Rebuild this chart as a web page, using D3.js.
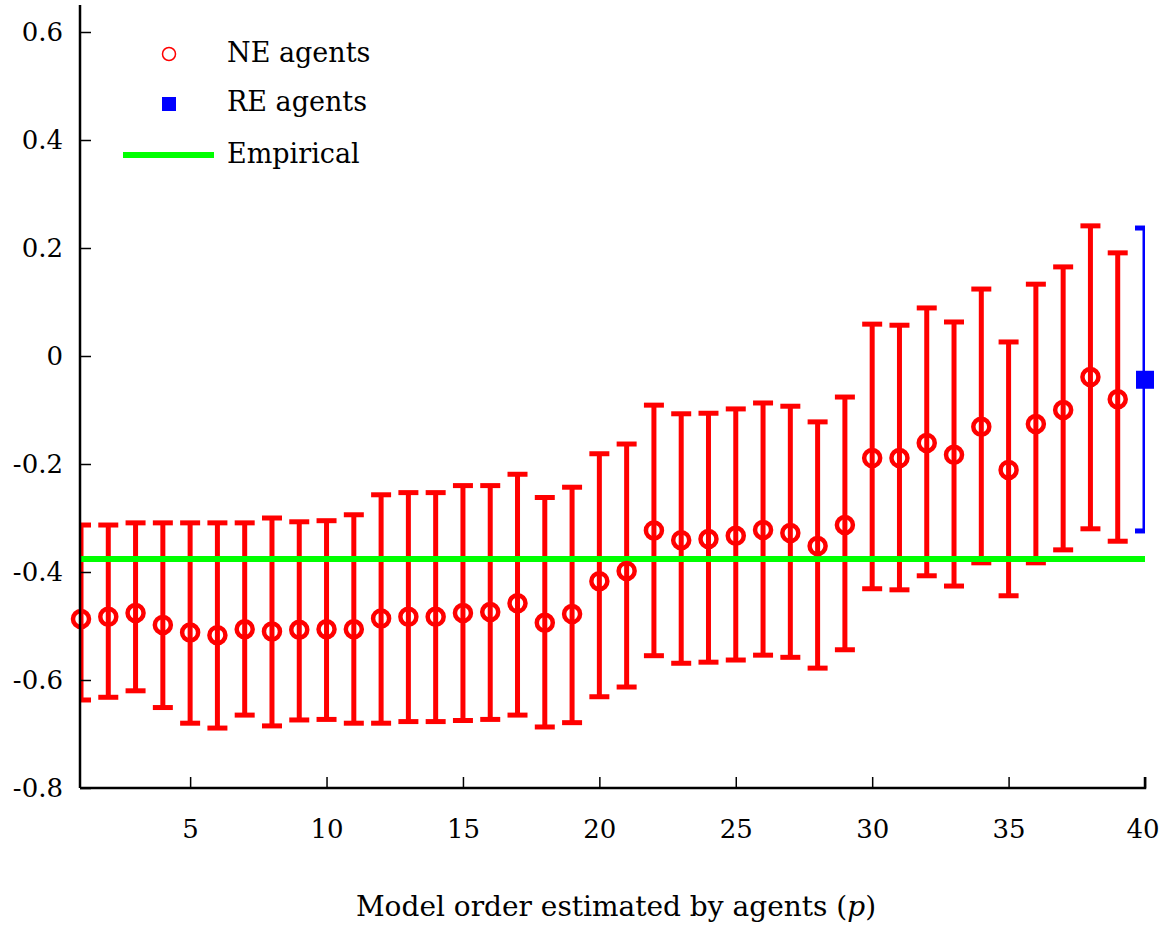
<!DOCTYPE html>
<html>
<head>
<meta charset="utf-8">
<script src="https://cdnjs.cloudflare.com/ajax/libs/d3/7.8.5/d3.min.js"></script>
<style>
  body { margin: 0; background: #fff; }
  text { font-family: "DejaVu Serif", "Liberation Serif", serif; fill: #000; }
</style>
</head>
<body>
<div id="chart"></div>
<script>
// model order p estimated by the NE agents
var order = [1, 2, 3, 4, 5, 6, 7, 8, 9, 10, 11, 12, 13, 14, 15, 16, 17, 18, 19, 20,
             21, 22, 23, 24, 25, 26, 27, 28, 29, 30, 31, 32, 33, 34, 35, 36, 37, 38, 39];
var neMean = [-0.487, -0.483, -0.476, -0.498, -0.512, -0.517, -0.506, -0.510, -0.507, -0.506,
              -0.506, -0.486, -0.483, -0.483, -0.476, -0.474, -0.458, -0.494, -0.478, -0.417,
              -0.398, -0.323, -0.341, -0.339, -0.333, -0.322, -0.328, -0.352, -0.313, -0.189,
              -0.189, -0.161, -0.183, -0.131, -0.211, -0.126, -0.100, -0.039, -0.080];
var neUpper = [-0.313, -0.313, -0.309, -0.309, -0.309, -0.309, -0.309, -0.300, -0.307, -0.305,
               -0.294, -0.257, -0.253, -0.253, -0.240, -0.240, -0.219, -0.262, -0.243, -0.181,
               -0.163, -0.091, -0.107, -0.106, -0.098, -0.087, -0.093, -0.122, -0.076, 0.059,
               0.057, 0.089, 0.063, 0.124, 0.026, 0.133, 0.165, 0.241, 0.191];
var neLower = [-0.637, -0.632, -0.620, -0.651, -0.680, -0.689, -0.665, -0.685, -0.674, -0.673,
               -0.680, -0.680, -0.677, -0.677, -0.675, -0.673, -0.665, -0.687, -0.679, -0.631,
               -0.613, -0.555, -0.569, -0.567, -0.563, -0.554, -0.558, -0.578, -0.544, -0.431,
               -0.433, -0.407, -0.426, -0.383, -0.444, -0.383, -0.359, -0.320, -0.343];

// RE agents (one point at p = 40)
var reOrder = [40];
var reMean = [-0.044];
var reUpper = [0.237];
var reLower = [-0.324];

var empirical = -0.376;

var xTicks = [5, 10, 15, 20, 25, 30, 35, 40];
var yTicks = [0.6, 0.4, 0.2, 0, -0.2, -0.4, -0.6, -0.8];
var legendLabels = ["NE agents", "RE agents", "Empirical"];

var W = 1159, H = 927;
var m = { left: 80, right: 1145, top: 5, bottom: 788 };

var svg = d3.select("#chart").append("svg")
  .attr("width", W).attr("height", H);

var x = d3.scaleLinear().domain([1, 40]).range([m.left + 1, m.right]);
var y = d3.scaleLinear().domain([-0.8, 0.65]).range([m.bottom, m.top]);

svg.append("clipPath").attr("id", "plotclip")
  .append("rect")
  .attr("x", m.left).attr("y", 0)
  .attr("width", m.right - m.left).attr("height", m.bottom);

var ne = order.map(function(p, i) {
  return { p: p, m: neMean[i], hi: neUpper[i], lo: neLower[i] };
});
var re = reOrder.map(function(p, i) {
  return { p: p, m: reMean[i], hi: reUpper[i], lo: reLower[i] };
});

var capW = 10;

function errorBars(g, data, color) {
  var bars = g.selectAll("g").data(data).enter().append("g")
    .attr("stroke", color).attr("stroke-width", 5).attr("fill", "none");
  bars.append("line")
    .attr("x1", function(d) { return x(d.p); })
    .attr("x2", function(d) { return x(d.p); })
    .attr("y1", function(d) { return y(d.hi); })
    .attr("y2", function(d) { return y(d.lo); });
  bars.append("line")
    .attr("x1", function(d) { return x(d.p) - capW; })
    .attr("x2", function(d) { return x(d.p) + capW; })
    .attr("y1", function(d) { return y(d.hi); })
    .attr("y2", function(d) { return y(d.hi); });
  bars.append("line")
    .attr("x1", function(d) { return x(d.p) - capW; })
    .attr("x2", function(d) { return x(d.p) + capW; })
    .attr("y1", function(d) { return y(d.lo); })
    .attr("y2", function(d) { return y(d.lo); });
}

var bars = svg.append("g").attr("clip-path", "url(#plotclip)");
errorBars(bars.append("g"), ne, "#ff0000");
errorBars(bars.append("g"), re, "#0000ff");

// empirical line
svg.append("line")
  .attr("x1", m.left).attr("x2", m.right)
  .attr("y1", y(empirical)).attr("y2", y(empirical))
  .attr("stroke", "#00ff00").attr("stroke-width", 6);

// markers
svg.append("g").selectAll("circle").data(ne).enter().append("circle")
  .attr("cx", function(d) { return x(d.p); })
  .attr("cy", function(d) { return y(d.m); })
  .attr("r", 8)
  .attr("fill", "none").attr("stroke", "#ff0000").attr("stroke-width", 4.5);

svg.append("g").selectAll("rect").data(re).enter().append("rect")
  .attr("x", function(d) { return x(d.p) - 9; })
  .attr("y", function(d) { return y(d.m) - 9; })
  .attr("width", 18).attr("height", 18)
  .attr("fill", "#0000ff");

// axes
var xAxis = svg.append("g").attr("transform", "translate(0," + m.bottom + ")")
  .call(d3.axisBottom(x).tickValues(xTicks).tickSize(-11).tickPadding(32).tickFormat(d3.format("d")));
var yAxis = svg.append("g").attr("transform", "translate(" + m.left + ",0)")
  .call(d3.axisLeft(y).tickValues(yTicks).tickSize(-11).tickPadding(17)
    .tickFormat(function(d) { return d === 0 ? "0" : d3.format(".1f")(d).replace("\u2212", "-"); }));

[xAxis, yAxis].forEach(function(a) {
  a.select(".domain").attr("stroke-width", 2.5);
  a.selectAll(".tick line").attr("stroke-width", 1.5);
  a.selectAll(".tick text").style("font-size", "26px")
    .style("font-family", '"DejaVu Serif", serif');
});
xAxis.select(".domain").attr("d", "M" + m.left + ",0H" + m.right + "V-11");
yAxis.select(".domain").attr("d", "M0," + m.top + "V" + m.bottom);
// last x label sits against the right edge
xAxis.selectAll(".tick text").filter(function(d) { return d === 40; })
  .attr("text-anchor", "end").attr("x", 14);

// x title
var title = svg.append("text")
  .attr("x", 616).attr("y", 916)
  .attr("text-anchor", "middle")
  .style("font-size", "28px");
title.append("tspan").text("Model order estimated by agents (");
title.append("tspan").style("font-style", "italic").text("p");
title.append("tspan").text(")");

// legend
var leg = svg.append("g");
leg.append("circle").attr("cx", 169).attr("cy", 54).attr("r", 6.5)
  .attr("fill", "none").attr("stroke", "#ff0000").attr("stroke-width", 1.5);
leg.append("rect").attr("x", 162).attr("y", 97).attr("width", 14).attr("height", 14)
  .attr("fill", "#0000ff");
leg.append("line").attr("x1", 123).attr("x2", 214).attr("y1", 155).attr("y2", 155)
  .attr("stroke", "#00ff00").attr("stroke-width", 6);
leg.selectAll("text").data(legendLabels).enter().append("text")
  .attr("x", 227)
  .attr("y", function(d, i) { return [62, 111, 163][i]; })
  .style("font-size", "27px")
  .text(function(d) { return d; });
</script>
</body>
</html>
